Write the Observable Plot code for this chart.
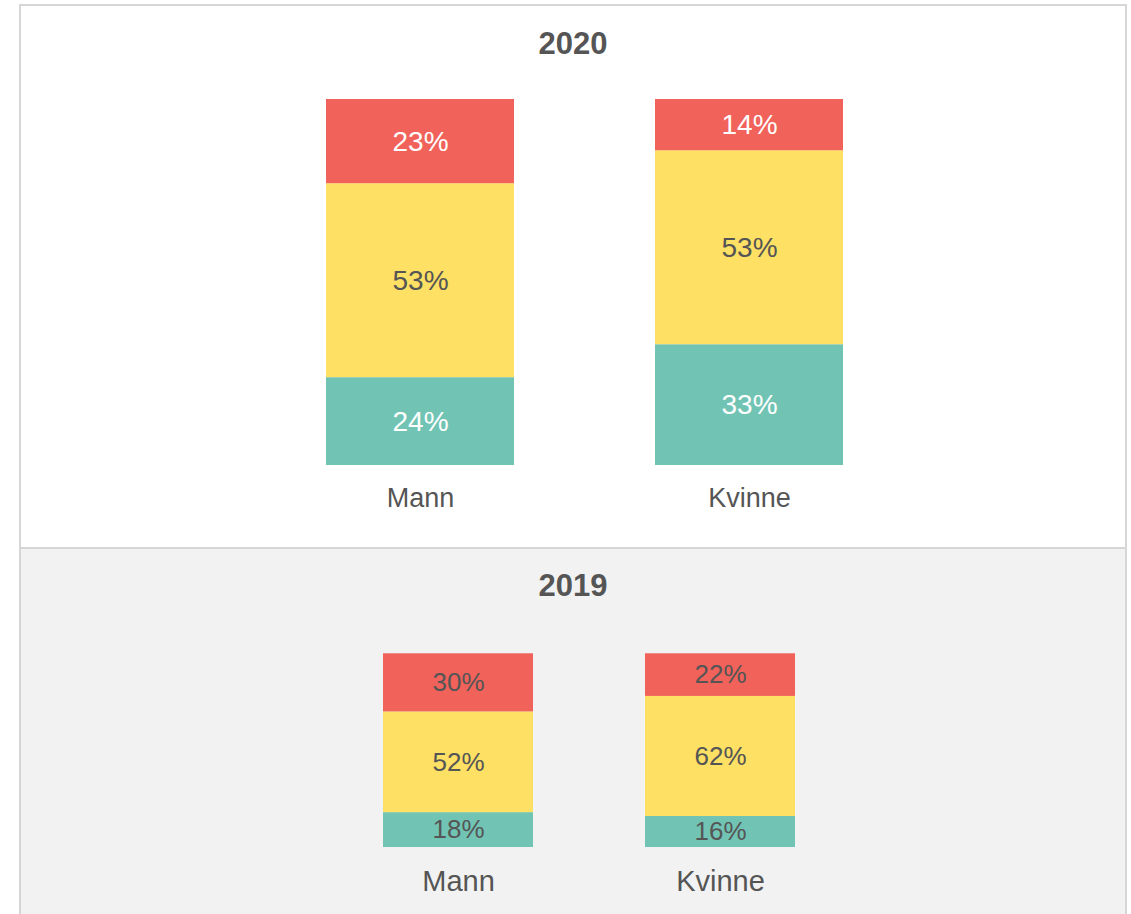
<!DOCTYPE html>
<html>
<head>
<meta charset="utf-8">
<script src="https://cdn.jsdelivr.net/npm/d3@7"></script>
<script src="https://cdn.jsdelivr.net/npm/@observablehq/plot@0.6"></script>
<style>
  html, body { margin: 0; padding: 0; background: #fff; overflow: hidden; }
  body { width: 1131px; height: 914px; position: relative; font-family: "Liberation Sans", Arial, sans-serif; }
  .panel { position: absolute; left: 19px; width: 1108px; box-sizing: border-box; border: 2px solid #d6d6d6; }
  #p2020 { top: 4px; height: 545px; background: #fff; }
  #p2019 { top: 547px; height: 420px; background: #f2f2f2; }
  .title { position: absolute; left: 19px; width: 1108px; text-align: center; font-weight: bold; font-size: 31px; line-height: 31px; color: #555; }
  .chart { position: absolute; left: 0; }
</style>
</head>
<body>
<div class="panel" id="p2020"></div>
<div class="panel" id="p2019"></div>
<div class="title" style="top:28px">2020</div>
<div class="title" style="top:570px">2019</div>
<div class="chart" id="c2020" style="top:80px"></div>
<div class="chart" id="c2019" style="top:600px"></div>
<script>
const categories = ["Mann", "Kvinne"];
const series = ["Grønn", "Gul", "Rød"]; // bottom to top
const mann2020 = [24, 53, 23];
const kvinne2020 = [33, 53, 14];
const mann2019 = [18, 52, 30];
const kvinne2019 = [16, 62, 22];
const palette = ["#71c4b4", "#fde064", "#f0625a"];

function rows(mann, kvinne) {
  return categories.flatMap((c, i) =>
    series.map((s, j) => ({category: c, series: s, value: (i === 0 ? mann : kvinne)[j]})));
}

function chart(data, o) {
  return Plot.plot({
    width: 1131,
    height: o.height,
    marginLeft: o.left, marginRight: o.right, marginTop: o.top, marginBottom: o.bottom,
    x: {domain: categories, paddingInner: o.pad, paddingOuter: 0, axis: null, label: null},
    y: {domain: [0, 100], axis: null},
    color: {type: "identity"},
    style: {background: "transparent", color: "#555", fontFamily: "'Liberation Sans', Arial, sans-serif", overflow: "visible"},
    marks: [
      Plot.barY(data, {x: "category", y: "value", z: "series", fill: d => palette[series.indexOf(d.series)]}),
      Plot.text(data, Plot.stackY({
        x: "category", y: "value", z: "series",
        text: d => d.value + "%",
        fill: o.labelFill,
        fontSize: o.labelSize
      })),
      Plot.axisX({tickSize: 0, tickPadding: o.tickPad, fontSize: o.axisSize, label: null})
    ]
  });
}

document.getElementById("c2020").append(chart(rows(mann2020, kvinne2020), {
  height: 460, left: 326, right: 288, top: 19, bottom: 75, pad: 0.4286,
  labelFill: d => d.series === "Gul" ? "#555" : "#fff", labelSize: 28, axisSize: 27, tickPad: 22
}));
document.getElementById("c2019").append(chart(rows(mann2019, kvinne2019), {
  height: 314, left: 383, right: 335, top: 53.3, bottom: 67, pad: 0.4267,
  labelFill: "#555", labelSize: 26, axisSize: 29, tickPad: 23
}));
</script>
</body>
</html>
